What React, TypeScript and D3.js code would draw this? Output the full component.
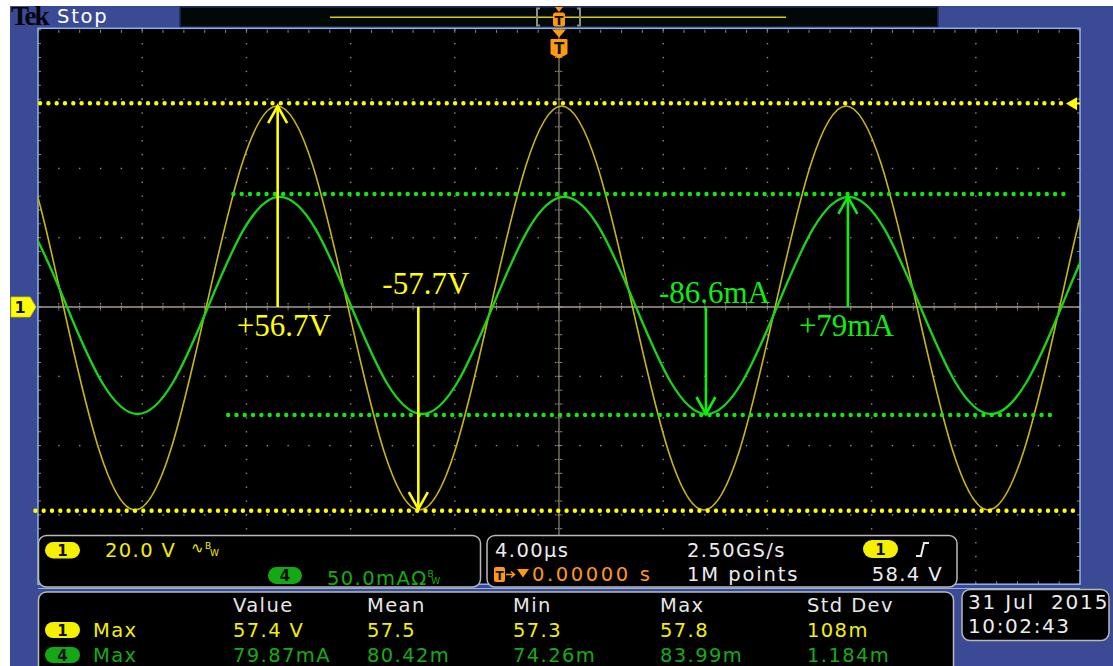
import React from "react";
import * as d3 from "d3";

// Channel 1 (voltage) samples: time in µs, value in V
const ch1TimeUs = [-21.74, -20.375, -19.01, -17.645, -16.28, -14.915, -13.55, -12.185, -10.82, -9.455, -8.09, -6.725, -5.36, -3.995, -2.63, -1.265, 0.1, 1.465, 2.83, 4.195, 5.56, 6.925, 8.29, 9.655, 11.02, 12.385, 13.75, 15.115, 16.48, 17.845, 19.21, 20.575, 21.94];
const ch1Volts = [58.0, 40.9, -0.3, -41.5, -58.6, -41.5, -0.3, 40.9, 58.0, 40.9, -0.3, -41.5, -58.6, -41.5, -0.3, 40.9, 58.0, 40.9, -0.3, -41.5, -58.6, -41.5, -0.3, 40.9, 58.0, 40.9, -0.3, -41.5, -58.6, -41.5, -0.3, 40.9, 58.0];
// Channel 4 (current) samples: time in µs, value in mA
const ch4TimeUs = [-21.64, -20.275, -18.91, -17.545, -16.18, -14.815, -13.45, -12.085, -10.72, -9.355, -7.99, -6.625, -5.26, -3.895, -2.53, -1.165, 0.2, 1.565, 2.93, 4.295, 5.66, 7.025, 8.39, 9.755, 11.12, 12.485, 13.85, 15.215, 16.58, 17.945, 19.31, 20.675, 22.04];
const ch4mA = [79.4, 56.5, 1.1, -54.3, -77.2, -54.3, 1.1, 56.5, 79.4, 56.5, 1.1, -54.3, -77.2, -54.3, 1.1, 56.5, 79.4, 56.5, 1.1, -54.3, -77.2, -54.3, 1.1, 56.5, 79.4, 56.5, 1.1, -54.3, -77.2, -54.3, 1.1, 56.5, 79.4];

// Scope settings
const timePerDivUs = 4;
const ch1VoltsPerDiv = 20;
const ch4mAPerDiv = 50;
const triggerLevelV = 58.4;

// Annotation arrows
const annLabels = ["+56.7V", "-57.7V", "-86.6mA", "+79mA"];
const annChannel = [1, 1, 4, 4];
const annTimeUs = [-10.8, -5.4, 5.64, 11.09];
const annLevel = [58.0, -58.3, -77.2, 79.4];

// Dotted reference levels
const refChannel = [1, 1, 4, 4];
const refLevel = [58.8, -58.8, 81.5, -77.9];
const refFromUs = [-19.92, -20.1, -12.5, -12.7];
const refToUs = [19.3, 19.8, 19.45, 19.15];

// Readouts
const measHeaders = ["Value", "Mean", "Min", "Max", "Std Dev"];
const ch1Meas = ["57.4 V", "57.5", "57.3", "57.8", "108m"];
const ch4Meas = ["79.87mA", "80.42m", "74.26m", "83.99m", "1.184m"];
const ch1Scale = "20.0 V";
const ch4Scale = "50.0mAΩ";
const timebase = "4.00µs";
const sampleRate = "2.50GS/s";
const recordLen = "1M points";
const trigPos = "0.00000 s";
const trigLevelText = "58.4 V";
const dateText = "31 Jul  2015";
const timeText = "10:02:43";

// ---------- styles ----------
const W = 1113;
const H = 666;
const BLUE = "#3b4a95";
const YEL = "#f4f000";
const YEL_TRACE = "#c8b70c";
const GRN_TRACE = "#18d618";
const GRN_TXT = "#14ac14";
const ORANGE = "#ff9a10";
const FONT = "'DejaVu Sans', Verdana, sans-serif";
const SERIF = "'Liberation Serif', 'Times New Roman', serif";
const LABEL_DX = [-41, -36, -47, -49];
const LABEL_DY = [29, -13, -4, 29];
const COLX = [233, 367, 513, 660, 807];

const P = { left: 38, right: 1080, top: 29.8, bottom: 584.2 };

export default function App() {
  const x = d3.scaleLinear().domain([-5 * timePerDivUs, 5 * timePerDivUs]).range([P.left, P.right]);
  const yDiv = d3.scaleLinear().domain([-4, 4]).range([P.bottom, P.top]);
  const y1 = d3.scaleLinear().domain([-4 * ch1VoltsPerDiv, 4 * ch1VoltsPerDiv]).range([P.bottom, P.top]);
  const y4 = d3.scaleLinear().domain([-4 * ch4mAPerDiv, 4 * ch4mAPerDiv]).range([P.bottom, P.top]);
  const yFor = (ch: number) => (ch === 1 ? y1 : y4);

  const line1 = d3
    .line<number>()
    .x((_, i) => x(ch1TimeUs[i]))
    .y((d) => y1(d))
    .curve(d3.curveNatural)(ch1Volts) as string;
  const line4 = d3
    .line<number>()
    .x((_, i) => x(ch4TimeUs[i]))
    .y((d) => y4(d))
    .curve(d3.curveNatural)(ch4mA) as string;

  const cx = x(0);
  const cy = yDiv(0);
  const minorT = d3.range(-20, 20.001, timePerDivUs / 5);
  const minorD = d3.range(-4, 4.001, 0.2);
  const majorT = d3.range(-16, 16.001, 4).filter((t) => Math.abs(t) > 0.01);
  const majorD = [-3, -2, -1, 1, 2, 3];

  const dots: JSX.Element[] = [];
  majorT.forEach((t, i) =>
    minorD.forEach((d, j) =>
      dots.push(<rect key={`v${i}-${j}`} x={x(t) - 0.65} y={yDiv(d) - 0.65} width={1.4} height={1.4} fill="#8e8e84" />)
    )
  );
  majorD.forEach((d, i) =>
    minorT.forEach((t, j) =>
      dots.push(<rect key={`h${i}-${j}`} x={x(t) - 0.65} y={yDiv(d) - 0.65} width={1.4} height={1.4} fill="#8e8e84" />)
    )
  );

  const pill = (px: number, py: number, w: number, h: number, fill: string, label: string, key: string) => (
    <g key={key}>
      <rect x={px} y={py} width={w} height={h} rx={h / 2} fill={fill} />
      <text x={px + w / 2} y={py + h / 2 + 5.5} textAnchor="middle" fontFamily={FONT} fontWeight="bold" fontSize={15} fill="#111">
        {label}
      </text>
    </g>
  );

  const txt = (tx: number, ty: number, s: string, fill: string, extra: any = {}) => (
    <text x={tx} y={ty} fill={fill} fontFamily={FONT} fontSize={19.5} letterSpacing={1.4} style={{ whiteSpace: "pre" }} {...extra}>
      {s}
    </text>
  );

  return (
    <svg width={W} height={H} style={{ position: "absolute", left: 0, top: 0, background: "#fff" }}>
      <defs>
        <clipPath id="plotClip">
          <rect x={P.left} y={P.top - 2} width={P.right - P.left} height={P.bottom - P.top + 2} />
        </clipPath>
      </defs>
      <rect x={10} y={6} width={W - 10} height={H - 6} fill={BLUE} />

      {/* header */}
      <text x={11} y={25} fontFamily={SERIF} fontWeight="bold" fontSize={27} letterSpacing={-2} fill="#05050c">
        Tek
      </text>
      <text x={57} y={23} fontFamily={FONT} fontSize={19.5} letterSpacing={1.8} fill="#fff">
        Stop
      </text>
      <rect x={180} y={7} width={758} height={20} fill="#020805" stroke="#1e2a58" strokeWidth={1.5} />
      <line x1={330} x2={786} y1={17.3} y2={17.3} stroke="#d8cc10" strokeWidth={1.5} />
      <path d="M540,8.5 H537 V25.5 H540 M577,8.5 H580 V25.5 H577" stroke="#8d8d8d" strokeWidth={2} fill="none" />
      <path d={`M${cx - 4},7 L${cx + 4},7 L${cx},12 Z`} fill={ORANGE} />
      <rect x={cx - 6} y={12.5} width={12} height={14} rx={2.5} fill={ORANGE} />
      <text x={cx} y={25} textAnchor="middle" fontFamily={FONT} fontWeight="bold" fontSize={13} fill="#111">
        T
      </text>

      {/* plot area */}
      <rect x={P.left} y={P.top - 1.5} width={P.right - P.left} height={P.bottom - P.top + 1.5} fill="#000" />
      {dots}
      {/* edge ticks */}
      {minorT.map((t, i) => (
        <g key={`et${i}`}>
          <line x1={x(t)} x2={x(t)} y1={P.top} y2={P.top + 3} stroke="#8a8a80" strokeWidth={1} />
          <line x1={x(t)} x2={x(t)} y1={P.bottom} y2={P.bottom - 3} stroke="#8a8a80" strokeWidth={1} />
        </g>
      ))}
      {minorD.map((d, i) => (
        <g key={`el${i}`}>
          <line x1={P.left} x2={P.left + 3} y1={yDiv(d)} y2={yDiv(d)} stroke="#8a8a80" strokeWidth={1} />
          <line x1={P.right} x2={P.right - 3} y1={yDiv(d)} y2={yDiv(d)} stroke="#8a8a80" strokeWidth={1} />
        </g>
      ))}
      {/* centre crosshair */}
      <line x1={P.left} x2={P.right} y1={cy} y2={cy} stroke="#a59e8a" strokeWidth={1.6} />
      <line x1={cx} x2={cx} y1={P.top} y2={P.bottom} stroke="#8f887a" strokeWidth={1.2} />
      {minorT.map((t, i) => (
        <line key={`ct${i}`} x1={x(t)} x2={x(t)} y1={cy - 4} y2={cy + 4} stroke="#a8a290" strokeWidth={1} strokeDasharray="1.5 1" />
      ))}
      {minorD.map((d, i) => (
        <line key={`cd${i}`} x1={cx - 4} x2={cx + 4} y1={yDiv(d)} y2={yDiv(d)} stroke="#a8a290" strokeWidth={1} strokeDasharray="1.5 1" />
      ))}
      <rect x={P.left} y={P.top - 1.5} width={P.right - P.left} height={P.bottom - P.top + 1.5} fill="none" stroke="#8fb2ea" strokeWidth={1.5} />

      {/* traces */}
      <g clipPath="url(#plotClip)">
        <path d={line1} fill="none" stroke={YEL_TRACE} strokeWidth={1.6} />
        <path d={line4} fill="none" stroke={GRN_TRACE} strokeWidth={2.3} />
      </g>

      {/* dotted reference levels */}
      {refLevel.map((lv, i) => (
        <line
          key={`ref${i}`}
          x1={x(refFromUs[i])}
          x2={x(refToUs[i])}
          y1={yFor(refChannel[i])(lv)}
          y2={yFor(refChannel[i])(lv)}
          stroke={refChannel[i] === 1 ? "#ffff00" : "#10e810"}
          strokeWidth={4.4}
          strokeLinecap="round"
          strokeDasharray="0 8.3"
        />
      ))}

      {/* annotation arrows */}
      {annLabels.map((lab, i) => {
        const ys = yFor(annChannel[i]);
        const ax = x(annTimeUs[i]);
        const y0 = ys(0);
        const yt = ys(annLevel[i]);
        const dir = yt < y0 ? 1 : -1;
        const col = annChannel[i] === 1 ? "#ffff00" : "#10ee10";
        return (
          <g key={`ann${i}`}>
            <line x1={ax} x2={ax} y1={y0} y2={yt} stroke={col} strokeWidth={2.6} />
            <path d={`M${ax - 9.5},${yt + dir * 17} L${ax},${yt} L${ax + 9.5},${yt + dir * 17}`} stroke={col} strokeWidth={2.6} fill="none" />
            <text x={ax + LABEL_DX[i]} y={y0 + LABEL_DY[i]} fill={col} fontFamily={SERIF} fontSize={31}>
              {lab}
            </text>
          </g>
        );
      })}

      {/* trigger markers */}
      <path d={`M${cx - 7},29.5 L${cx + 7},29.5 L${cx},37.5 Z`} fill={ORANGE} />
      <path d={`M${cx - 8.5},40 Q${cx - 8.5},39 ${cx - 7.5},39 L${cx + 7.5},39 Q${cx + 8.5},39 ${cx + 8.5},40 L${cx + 8.5},54 L${cx},58.5 L${cx - 8.5},54 Z`} fill={ORANGE} />
      <text x={cx} y={54} textAnchor="middle" fontFamily={FONT} fontWeight="bold" fontSize={15} fill="#111">
        T
      </text>
      <path d={`M${P.right - 14},${y1(triggerLevelV) - 1.2} L${P.right - 3},${y1(triggerLevelV) - 7.5} L${P.right - 3},${y1(triggerLevelV) + 5.5} Z`} fill="#ffff00" />
      <line x1={P.right - 4} x2={P.right} y1={y1(triggerLevelV) - 1.2} y2={y1(triggerLevelV) - 1.2} stroke="#ffff00" strokeWidth={2} />

      {/* channel 1 ground marker */}
      <path d={`M11,${cy - 10} H30 L36,${cy} L30,${cy + 10} H11 Z`} fill="#ffff00" stroke="#d0c800" strokeWidth={0.8} />
      <text x={20} y={cy + 6} textAnchor="middle" fontFamily={FONT} fontWeight="bold" fontSize={16} fill="#111">
        1
      </text>

      {/* lower readouts */}
      <line x1={P.left} x2={P.right} y1={588.5} y2={588.5} stroke="#8fb2ea" strokeWidth={1.2} />
      <rect x={38.5} y={535.5} width={442} height={51.5} rx={8} fill="#000" stroke="#b9b9b9" strokeWidth={1.5} />
      <rect x={487} y={535.5} width={470} height={51.5} rx={8} fill="#000" stroke="#b9b9b9" strokeWidth={1.5} />
      <rect x={38.5} y={592} width={915} height={90} rx={8} fill="#000" stroke="#b9b9b9" strokeWidth={1.5} />
      <rect x={962} y={589.5} width={147} height={51} rx={8} fill="#000" stroke="#b9b9b9" strokeWidth={1.5} />

      {/* panel A */}
      {pill(45, 542, 35, 16.5, YEL, "1", "pA1")}
      {txt(105, 557, ch1Scale, YEL)}
      <text x={191} y={553} fill={YEL} fontFamily={FONT} fontSize={15}>∿</text>
      <text x={205} y={549} fill={YEL} fontFamily={FONT} fontSize={9}>B</text>
      <text x={210} y={556} fill={YEL} fontFamily={FONT} fontSize={9}>W</text>
      {pill(268, 567, 34, 17, "#14a814", "4", "pA4")}
      <text x={327} y={585} fill={GRN_TXT} fontFamily={FONT} fontSize={19.5} letterSpacing={1.4}>
        {ch4Scale}
        <tspan fontSize={9} dy={-8} letterSpacing={0}>B</tspan>
        <tspan fontSize={9} dy={7} dx={-2} letterSpacing={0}>W</tspan>
      </text>

      {/* panel B */}
      {txt(495, 557, timebase, "#ececec")}
      {txt(687, 557, sampleRate, "#ececec")}
      {pill(863, 540, 35, 18, YEL, "1", "pB1")}
      <path d="M916,556 H921 L924,543 H929" stroke="#ececec" strokeWidth={2} fill="none" />
      <rect x={494} y={567} width={11} height={15} rx={2} fill={ORANGE} />
      <text x={499.5} y={580} textAnchor="middle" fontFamily={FONT} fontWeight="bold" fontSize={12} fill="#111">T</text>
      <path d="M506,574.5 H514 M511,571.5 L514.5,574.5 L511,577.5" stroke={ORANGE} strokeWidth={1.5} fill="none" />
      <path d="M517,569 H529 L523,577.5 Z" fill={ORANGE} />
      {txt(532, 581, trigPos, ORANGE, { letterSpacing: 2.6 })}
      {txt(687, 581, recordLen, "#ececec", { letterSpacing: 1.9 })}
      {txt(943, 581, trigLevelText, "#ececec", { textAnchor: "end" })}

      {/* panel C */}
      {measHeaders.map((h, i) => (
        <g key={`mh${i}`}>{txt(COLX[i], 612, h, "#e6e6e6")}</g>
      ))}
      {pill(45, 622, 35, 16, YEL, "1", "pC1")}
      {txt(93, 637, "Max", YEL)}
      {pill(45, 647, 35, 16, "#14a814", "4", "pC4")}
      {txt(93, 662, "Max", GRN_TXT)}
      {ch1Meas.map((m, i) => (
        <g key={`m1${i}`}>{txt(COLX[i], 637, m, YEL)}</g>
      ))}
      {ch4Meas.map((m, i) => (
        <g key={`m4${i}`}>{txt(COLX[i], 662, m, GRN_TXT)}</g>
      ))}

      {/* date */}
      <text x={968} y={609} fill="#ececec" fontFamily={FONT} fontSize={20} letterSpacing={1.8} style={{ whiteSpace: "pre" }}>
        {dateText}
      </text>
      <text x={968} y={633} fill="#ececec" fontFamily={FONT} fontSize={20} letterSpacing={1.6}>
        {timeText}
      </text>
    </svg>
  );
}
